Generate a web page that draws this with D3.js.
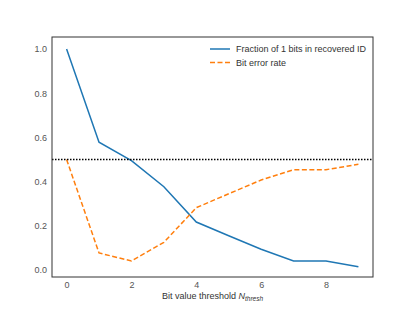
<!DOCTYPE html>
<html>
<head>
<meta charset="utf-8">
<script src="https://cdn.jsdelivr.net/npm/d3@7"></script>
<style>
  body { margin: 0; background: #fff; }
  text { font-family: "Liberation Sans", Arial, sans-serif; }
</style>
</head>
<body>
<svg id="chart" width="415" height="313"></svg>
<script>
// Data
var thresholds = [0, 1, 2, 3, 4, 5, 6, 7, 8, 9];
var fractionOnes = [1.0, 0.578, 0.495, 0.377, 0.217, 0.155, 0.094, 0.041, 0.041, 0.015];
var bitErrorRate = [0.5, 0.077, 0.041, 0.125, 0.282, 0.345, 0.407, 0.454, 0.454, 0.478];
var xTicks = [0, 2, 4, 6, 8];
var yTicks = [0.0, 0.2, 0.4, 0.6, 0.8, 1.0];
var seriesNames = ["Fraction of 1 bits in recovered ID", "Bit error rate"];
var refLine = 0.5;

// Dimensions
var plotLeft = 52, plotRight = 373, plotTop = 37, plotBottom = 277;

var svg = d3.select("#chart");

var x = d3.scaleLinear().domain([-0.45, 9.45]).range([plotLeft, plotRight]);
var y = d3.scaleLinear().domain([-0.0317, 1.0543]).range([plotBottom, plotTop]);

// Tick labels
var xAxis = svg.append("g")
    .attr("transform", "translate(0," + plotBottom + ")")
    .call(d3.axisBottom(x).tickValues(xTicks).tickSize(0).tickPadding(5).tickFormat(d3.format("d")));
xAxis.select(".domain").remove();
xAxis.selectAll("text").attr("fill", "#555").style("font-size", "9px");

var yAxis = svg.append("g")
    .attr("transform", "translate(" + plotLeft + ",0)")
    .call(d3.axisLeft(y).tickValues(yTicks).tickSize(0).tickPadding(5).tickFormat(d3.format(".1f")));
yAxis.select(".domain").remove();
yAxis.selectAll("text").attr("fill", "#555").style("font-size", "9px");

// Lines
var line = d3.line()
    .x(function(d, i) { return x(thresholds[i]); })
    .y(function(d) { return y(d); });

svg.append("path")
    .datum(fractionOnes)
    .attr("d", line)
    .attr("fill", "none")
    .attr("stroke", "#1f77b4")
    .attr("stroke-width", 1.5);

svg.append("path")
    .datum(bitErrorRate)
    .attr("d", line)
    .attr("fill", "none")
    .attr("stroke", "#ff7f0e")
    .attr("stroke-width", 1.5)
    .attr("stroke-dasharray", "5,2.5");

// Reference line at 0.5
svg.append("line")
    .attr("x1", plotLeft).attr("x2", plotRight)
    .attr("y1", y(refLine)).attr("y2", y(refLine))
    .attr("stroke", "#000")
    .attr("stroke-width", 1.5)
    .attr("stroke-dasharray", "1.5,1.5");

// Frame
svg.append("rect")
    .attr("x", plotLeft).attr("y", plotTop)
    .attr("width", plotRight - plotLeft).attr("height", plotBottom - plotTop)
    .attr("fill", "none")
    .attr("stroke", "#333")
    .attr("stroke-width", 1);

// Legend
var legend = svg.append("g").attr("transform", "translate(210,49)");
var styles = [
    { color: "#1f77b4", dash: null },
    { color: "#ff7f0e", dash: "5,2.5" }
];
seriesNames.forEach(function(name, i) {
    var row = legend.append("g").attr("transform", "translate(0," + (i * 13.5) + ")");
    row.append("line")
        .attr("x1", 0).attr("x2", 20)
        .attr("y1", 0).attr("y2", 0)
        .attr("stroke", styles[i].color)
        .attr("stroke-width", 1.5)
        .attr("stroke-dasharray", styles[i].dash);
    row.append("text")
        .attr("x", 26).attr("y", 0)
        .attr("dy", "0.35em")
        .attr("fill", "#333")
        .style("font-size", "9px")
        .text(name);
});

// X label
var xlabel = svg.append("text")
    .attr("x", (plotLeft + plotRight) / 2)
    .attr("y", 299)
    .attr("text-anchor", "middle")
    .attr("fill", "#333")
    .style("font-size", "9px");
xlabel.append("tspan").text("Bit value threshold ");
xlabel.append("tspan").style("font-style", "italic").text("N");
xlabel.append("tspan").style("font-style", "italic").style("font-size", "6.5px").attr("dy", 2).text("thresh");
</script>
</body>
</html>
